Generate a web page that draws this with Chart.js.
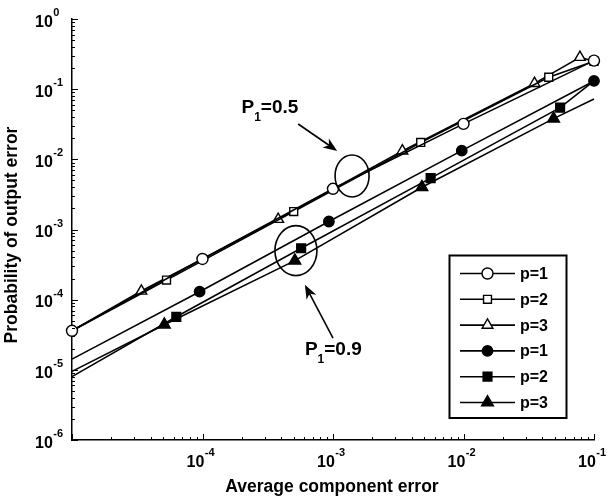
<!DOCTYPE html>
<html>
<head>
<meta charset="utf-8">
<script src="https://cdn.jsdelivr.net/npm/chart.js@4.4.1/dist/chart.umd.min.js"></script>
<style>
  html, body { margin: 0; padding: 0; background: #fff; }
  #wrap { width: 610px; height: 499px; }
</style>
</head>
<body>
<div id="wrap"><canvas id="grafico" width="610" height="499"></canvas></div>
<script>
/* ============================================================
   Probabilidad de error de salida vs error medio de componente
============================================================ */

// --- P1 = 0.5 (marcadores huecos) ---
const xCirculoA = [1e-5, 1e-4, 1e-3, 1e-2, 1e-1];
const yCirculoA = [3.6e-5, 3.8e-4, 3.8e-3, 3.2e-2, 2.55e-1];

const xCuadradoA = [1e-5, 5.3e-5, 5.0e-4, 4.7e-3, 4.5e-2, 1e-1];
const yCuadradoA = [3.6e-5, 1.9e-4, 1.8e-3, 1.74e-2, 1.48e-1, 2.5e-1];

const xTrianguloA = [1e-5, 3.4e-5, 3.8e-4, 3.4e-3, 3.5e-2, 7.8e-2, 1e-1];
const yTrianguloA = [3.6e-5, 1.33e-4, 1.4e-3, 1.32e-2, 1.21e-1, 2.85e-1, 2.5e-1];

// --- P1 = 0.9 (marcadores rellenos) ---
const xCirculoB = [1e-5, 9.5e-5, 9.3e-4, 9.7e-3, 1e-1];
const yCirculoB = [1.42e-5, 1.3e-4, 1.3e-3, 1.33e-2, 1.31e-1];

const xCuadradoB = [1e-5, 6.3e-5, 5.7e-4, 5.6e-3, 5.5e-2, 1e-1];
const yCuadradoB = [8.0e-6, 5.7e-5, 5.4e-4, 5.4e-3, 5.45e-2, 1.31e-1];

const xTrianguloB = [1e-5, 5.1e-5, 5.1e-4, 4.8e-3, 4.9e-2, 1e-1];
const yTrianguloB = [9.5e-6, 4.4e-5, 3.6e-4, 4.0e-3, 3.8e-2, 7.25e-2];

// ticks
const xTicks = [1e-4, 1e-3, 1e-2, 1e-1];
const xTickExp = ["-4", "-3", "-2", "-1"];
const yTicks = [1e0, 1e-1, 1e-2, 1e-3, 1e-4, 1e-5, 1e-6];
const yTickExp = ["0", "-1", "-2", "-3", "-4", "-5", "-6"];

const etiquetasLeyenda = ["p=1", "p=2", "p=3", "p=1", "p=2", "p=3"];
const tituloX = "Average component error";
const tituloY = "Probability of output error";

const FUENTE = "'Liberation Sans', Arial, Helvetica, sans-serif";

/* Construir dataset: marca solo entre primera y ultima */
function serie(xs, ys, estilo, radio, relleno, primera, ultima) {
    return {
        data: xs.map((x, i) => ({ x, y: ys[i] })),
        borderColor: "#000",
        borderWidth: 1.6,
        tension: 0,
        fill: false,
        clip: false,
        pointStyle: estilo,
        pointRadius: xs.map((_, i) => (i >= primera && i <= ultima) ? radio : 0),
        pointHoverRadius: 0,
        pointBackgroundColor: relleno ? "#000" : "#fff",
        pointBorderColor: "#000",
        pointBorderWidth: 1.4,
        _relleno: relleno,
        _radio: radio
    };
}

const datasets = [
    serie(xCirculoA, yCirculoA, "circle", 5.5, false, 0, 4),
    serie(xCuadradoA, yCuadradoA, "rect", 5.6, false, 1, 5),
    serie(xTrianguloA, yTrianguloA, "triangle", 6.2, false, 1, 5),
    serie(xCirculoB, yCirculoB, "circle", 5.2, true, 1, 4),
    serie(xCuadradoB, yCuadradoB, "rect", 6.2, true, 1, 4),
    serie(xTrianguloB, yTrianguloB, "triangle", 6.8, true, 1, 4)
];

/* marcador a mano (para la leyenda) */
function marcador(ctx, estilo, r, relleno, x, y) {
    ctx.beginPath();
    if (estilo === "circle") {
        ctx.arc(x, y, r, 0, Math.PI * 2);
    } else if (estilo === "rect") {
        const s = Math.SQRT1_2 * r;
        ctx.rect(x - s, y - s, 2 * s, 2 * s);
    } else {
        let a = 0;
        ctx.moveTo(x + Math.sin(a) * r, y - Math.cos(a) * r);
        a += 2 * Math.PI / 3;
        ctx.lineTo(x + Math.sin(a) * r, y - Math.cos(a) * r);
        a += 2 * Math.PI / 3;
        ctx.lineTo(x + Math.sin(a) * r, y - Math.cos(a) * r);
        ctx.closePath();
    }
    ctx.fillStyle = relleno ? "#000" : "#fff";
    ctx.fill();
    ctx.lineWidth = 1.4;
    ctx.strokeStyle = "#000";
    ctx.stroke();
}

function potencia(ctx, x, base, exp) {
    ctx.textAlign = "left";
    ctx.textBaseline = "alphabetic";
    ctx.font = `bold 16px ${FUENTE}`;
    ctx.fillText("10", x, base);
    const w = ctx.measureText("10").width;
    ctx.font = `bold 11px ${FUENTE}`;
    ctx.fillText(exp, x + w + 0.5, base - 10.7);
}

function textoSub(ctx, x, base, sub, resto) {
    ctx.textAlign = "left";
    ctx.textBaseline = "alphabetic";
    ctx.font = `bold 19px ${FUENTE}`;
    ctx.fillText("P", x, base);
    let px = x + ctx.measureText("P").width;
    ctx.font = `bold 12px ${FUENTE}`;
    ctx.fillText(sub, px, base + 8);
    px += ctx.measureText(sub).width;
    ctx.font = `bold 19px ${FUENTE}`;
    ctx.fillText(resto, px, base);
}

function flecha(ctx, x0, y0, x1, y1) {
    const ang = Math.atan2(y1 - y0, x1 - x0);
    const L = 14, H = 5.5, N = 4;
    ctx.beginPath();
    ctx.moveTo(x0, y0);
    ctx.lineTo(x1 - Math.cos(ang) * (L - N), y1 - Math.sin(ang) * (L - N));
    ctx.lineWidth = 1.6;
    ctx.stroke();
    const bx = x1 - Math.cos(ang) * L, by = y1 - Math.sin(ang) * L;
    const nx = -Math.sin(ang), ny = Math.cos(ang);
    ctx.beginPath();
    ctx.moveTo(x1, y1);
    ctx.lineTo(bx + nx * H, by + ny * H);
    ctx.lineTo(x1 - Math.cos(ang) * (L - N), y1 - Math.sin(ang) * (L - N));
    ctx.lineTo(bx - nx * H, by - ny * H);
    ctx.closePath();
    ctx.fill();
}

/* Ejes: ticks hacia dentro, etiquetas 10^n, titulos */
const ejesPlugin = {
    id: "ejes",
    afterDraw(chart) {
        const ctx = chart.ctx;
        const sx = chart.scales.x, sy = chart.scales.y;
        const a = chart.chartArea;
        ctx.save();
        ctx.strokeStyle = "#000";
        ctx.fillStyle = "#000";
        ctx.lineWidth = 1;

        // ticks eje x
        for (let e = -5; e <= -1; e++) {
            for (let k = 1; k <= 9; k++) {
                const v = k * Math.pow(10, e);
                if (v > sx.max * 1.0001) continue;
                const px = Math.round(sx.getPixelForValue(v)) + 0.5;
                const len = k === 1 ? 6 : 3;
                ctx.beginPath();
                ctx.moveTo(px, a.bottom);
                ctx.lineTo(px, a.bottom - len);
                ctx.stroke();
            }
        }
        // ticks eje y
        for (let e = -6; e <= 0; e++) {
            for (let k = 1; k <= 9; k++) {
                const v = k * Math.pow(10, e);
                if (v > sy.max * 1.0001) continue;
                const py = Math.round(sy.getPixelForValue(v)) + 0.5;
                const len = k === 1 ? 6 : 3;
                ctx.beginPath();
                ctx.moveTo(a.left, py);
                ctx.lineTo(a.left + len, py);
                ctx.stroke();
            }
        }

        // etiquetas
        xTicks.forEach((v, i) => {
            const px = sx.getPixelForValue(v);
            potencia(ctx, px - 16, a.bottom + 27, xTickExp[i]);
        });
        yTicks.forEach((v, i) => {
            const py = sy.getPixelForValue(v);
            potencia(ctx, 35, py + 7.7, yTickExp[i]);
        });

        // titulos
        ctx.font = `bold 17.5px ${FUENTE}`;
        ctx.textAlign = "center";
        ctx.textBaseline = "alphabetic";
        ctx.fillText(tituloX, (a.left + a.right) / 2 - 1, 492);
        ctx.save();
        ctx.translate(17, 235);
        ctx.rotate(-Math.PI / 2);
        ctx.fillText(tituloY, 0, 0);
        ctx.restore();

        ctx.restore();
    }
};

/* Anotaciones (elipses, flechas, P1) y leyenda */
const notasPlugin = {
    id: "notas",
    afterDraw(chart) {
        const ctx = chart.ctx;
        const sx = chart.scales.x, sy = chart.scales.y;
        const P = (x, y) => [sx.getPixelForValue(x), sy.getPixelForValue(y)];
        ctx.save();
        ctx.strokeStyle = "#000";
        ctx.fillStyle = "#000";
        ctx.lineWidth = 1.6;

        // elipses
        let c = P(1.40e-3, 5.8e-3);
        ctx.beginPath();
        ctx.ellipse(c[0], c[1], 17, 21, 0, 0, Math.PI * 2);
        ctx.stroke();
        c = P(5.2e-4, 5.0e-4);
        ctx.beginPath();
        ctx.ellipse(c[0], c[1], 21, 25, 0, 0, Math.PI * 2);
        ctx.stroke();

        // flechas
        let p0 = P(5.41e-4, 3.19e-2), p1 = P(1.077e-3, 1.317e-2);
        flecha(ctx, p0[0], p0[1], p1[0], p1[1]);
        p0 = P(1.0e-3, 2.83e-5); p1 = P(6.09e-4, 1.625e-4);
        flecha(ctx, p0[0], p0[1], p1[0], p1[1]);

        // textos
        let t = P(1.99e-4, 4.63e-2);
        textoSub(ctx, t[0], t[1], "1", "=0.5");
        t = P(6.09e-4, 1.64e-5);
        textoSub(ctx, t[0], t[1], "1", "=0.9");

        // leyenda
        const bx = 449.5, by = 255.5, bw = 117, bh = 162.5;
        ctx.fillStyle = "#fff";
        ctx.fillRect(bx, by, bw, bh);
        ctx.lineWidth = 2;
        ctx.strokeStyle = "#000";
        ctx.strokeRect(bx, by, bw, bh);
        etiquetasLeyenda.forEach((txt, i) => {
            const ds = chart.data.datasets[i];
            const y = 273.5 + i * 25.8;
            ctx.beginPath();
            ctx.moveTo(460, y);
            ctx.lineTo(515, y);
            ctx.lineWidth = 1.6;
            ctx.strokeStyle = "#000";
            ctx.stroke();
            marcador(ctx, ds.pointStyle, ds._radio, ds._relleno, 487.5, y);
            ctx.fillStyle = "#000";
            ctx.font = `bold 16px ${FUENTE}`;
            ctx.textAlign = "left";
            ctx.textBaseline = "middle";
            ctx.fillText(txt, 520, y + 1);
        });
        ctx.restore();
    }
};

new Chart(document.getElementById("grafico"), {
    type: "line",
    data: { datasets },
    options: {
        responsive: false,
        animation: false,
        devicePixelRatio: 1,
        layout: { padding: { left: 72, right: 16, top: 19, bottom: 59 } },
        plugins: {
            legend: { display: false },
            tooltip: { enabled: false },
            title: { display: false }
        },
        scales: {
            x: {
                type: "logarithmic",
                position: "bottom",
                min: 1e-5,
                max: 1e-1,
                ticks: { display: false },
                grid: { display: false, drawTicks: false },
                border: { display: true, color: "#000", width: 1.5 }
            },
            y: {
                type: "logarithmic",
                position: "left",
                min: 1e-6,
                max: 1e0,
                ticks: { display: false },
                grid: { display: false, drawTicks: false },
                border: { display: true, color: "#000", width: 1.5 }
            }
        }
    },
    plugins: [ejesPlugin, notasPlugin]
});
</script>
</body>
</html>
